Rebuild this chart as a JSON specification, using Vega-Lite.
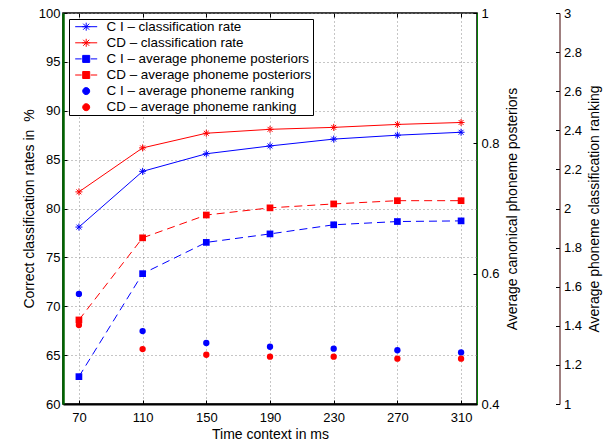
{
  "$schema": "https://vega.github.io/schema/vega-lite/v6.json",
  "width": 414,
  "height": 391,
  "autosize": "none",
  "padding": {"left": 63, "top": 13, "right": 131, "bottom": 40},
  "config": {
    "font": "Liberation Sans",
    "view": {"stroke": "black", "strokeWidth": 1.5},
    "axis": {
      "labelFont": "Liberation Sans", "labelFontSize": 13, "labelColor": "black",
      "titleFont": "Liberation Sans", "titleFontSize": 14, "titleFontWeight": "normal", "titleColor": "black",
      "tickColor": "black", "domainColor": "black", "gridColor": "#8c8c8c", "gridDash": [1, 3], "gridWidth": 1
    }
  },
  "datasets": {
    "d": [
      {"t": 70, "g": "rate", "s": "C I \u2013 classification rate", "v": 78.1},
      {"t": 110, "g": "rate", "s": "C I \u2013 classification rate", "v": 83.8},
      {"t": 150, "g": "rate", "s": "C I \u2013 classification rate", "v": 85.6},
      {"t": 190, "g": "rate", "s": "C I \u2013 classification rate", "v": 86.4},
      {"t": 230, "g": "rate", "s": "C I \u2013 classification rate", "v": 87.1},
      {"t": 270, "g": "rate", "s": "C I \u2013 classification rate", "v": 87.5},
      {"t": 310, "g": "rate", "s": "C I \u2013 classification rate", "v": 87.8},
      {"t": 70, "g": "rate", "s": "CD \u2013 classification rate", "v": 81.7},
      {"t": 110, "g": "rate", "s": "CD \u2013 classification rate", "v": 86.2},
      {"t": 150, "g": "rate", "s": "CD \u2013 classification rate", "v": 87.7},
      {"t": 190, "g": "rate", "s": "CD \u2013 classification rate", "v": 88.1},
      {"t": 230, "g": "rate", "s": "CD \u2013 classification rate", "v": 88.3},
      {"t": 270, "g": "rate", "s": "CD \u2013 classification rate", "v": 88.6},
      {"t": 310, "g": "rate", "s": "CD \u2013 classification rate", "v": 88.8},
      {"t": 70, "g": "post", "s": "C I \u2013 average phoneme posteriors", "v": 0.442},
      {"t": 110, "g": "post", "s": "C I \u2013 average phoneme posteriors", "v": 0.600},
      {"t": 150, "g": "post", "s": "C I \u2013 average phoneme posteriors", "v": 0.648},
      {"t": 190, "g": "post", "s": "C I \u2013 average phoneme posteriors", "v": 0.661},
      {"t": 230, "g": "post", "s": "C I \u2013 average phoneme posteriors", "v": 0.675},
      {"t": 270, "g": "post", "s": "C I \u2013 average phoneme posteriors", "v": 0.680},
      {"t": 310, "g": "post", "s": "C I \u2013 average phoneme posteriors", "v": 0.681},
      {"t": 70, "g": "post", "s": "CD \u2013 average phoneme posteriors", "v": 0.529},
      {"t": 110, "g": "post", "s": "CD \u2013 average phoneme posteriors", "v": 0.655},
      {"t": 150, "g": "post", "s": "CD \u2013 average phoneme posteriors", "v": 0.690},
      {"t": 190, "g": "post", "s": "CD \u2013 average phoneme posteriors", "v": 0.701},
      {"t": 230, "g": "post", "s": "CD \u2013 average phoneme posteriors", "v": 0.707},
      {"t": 270, "g": "post", "s": "CD \u2013 average phoneme posteriors", "v": 0.712},
      {"t": 310, "g": "post", "s": "CD \u2013 average phoneme posteriors", "v": 0.712},
      {"t": 70, "g": "rank", "s": "C I \u2013 average phoneme ranking", "v": 1.563},
      {"t": 110, "g": "rank", "s": "C I \u2013 average phoneme ranking", "v": 1.373},
      {"t": 150, "g": "rank", "s": "C I \u2013 average phoneme ranking", "v": 1.312},
      {"t": 190, "g": "rank", "s": "C I \u2013 average phoneme ranking", "v": 1.293},
      {"t": 230, "g": "rank", "s": "C I \u2013 average phoneme ranking", "v": 1.283},
      {"t": 270, "g": "rank", "s": "C I \u2013 average phoneme ranking", "v": 1.275},
      {"t": 310, "g": "rank", "s": "C I \u2013 average phoneme ranking", "v": 1.264},
      {"t": 70, "g": "rank", "s": "CD \u2013 average phoneme ranking", "v": 1.404},
      {"t": 110, "g": "rank", "s": "CD \u2013 average phoneme ranking", "v": 1.281},
      {"t": 150, "g": "rank", "s": "CD \u2013 average phoneme ranking", "v": 1.252},
      {"t": 190, "g": "rank", "s": "CD \u2013 average phoneme ranking", "v": 1.242},
      {"t": 230, "g": "rank", "s": "CD \u2013 average phoneme ranking", "v": 1.242},
      {"t": 270, "g": "rank", "s": "CD \u2013 average phoneme ranking", "v": 1.232},
      {"t": 310, "g": "rank", "s": "CD \u2013 average phoneme ranking", "v": 1.232}
    ]
  },
  "data": {"name": "d"},
  "encoding": {
    "color": {
      "field": "s", "type": "nominal",
      "scale": {
        "domain": [
          "C I \u2013 classification rate", "CD \u2013 classification rate",
          "C I \u2013 average phoneme posteriors", "CD \u2013 average phoneme posteriors",
          "C I \u2013 average phoneme ranking", "CD \u2013 average phoneme ranking"
        ],
        "range": ["#0000ff", "#ff0000", "#0000ff", "#ff0000", "#0000ff", "#ff0000"]
      },
      "legend": {
        "title": null,
        "orient": "top-left",
        "offset": 6,
        "padding": 1,
        "rowPadding": 1.1,
        "symbolSize": 100,
        "symbolOffset": 9.5,
        "labelOffset": 13.7,
        "labelFont": "Liberation Sans",
        "labelFontSize": 13.4,
        "labelColor": "black",
        "labelLimit": 400,
        "strokeColor": "black",
        "fillColor": "white",
        "symbolStrokeWidth": 1,
        "encode": {
          "symbols": {
            "update": {
              "shape": {"signal": "indexof(datum.value,'rate')>=0 ? 'M-2.2,0H2.2M-0.8,0H0.8M0,-0.8V0.8M-0.6,-0.6L0.6,0.6M-0.6,0.6L0.6,-0.6' : (indexof(datum.value,'posteriors')>=0 ? 'M-2.2,0H-0.9M0.9,0H2.2M-0.7,-0.7H0.7V0.7H-0.7Z' : 'M-0.7,0A0.7,0.7 0 1,0 0.7,0A0.7,0.7 0 1,0 -0.7,0Z')"},
              "fill": {"signal": "indexof(datum.value,'rate')>=0 ? 'transparent' : (indexof(datum.value,'C I')>=0 ? '#0000ff' : '#ff0000')"},
              "stroke": {"signal": "indexof(datum.value,'C I')>=0 ? '#0000ff' : '#ff0000'"},
              "strokeWidth": {"value": 1},
              "strokeDash": {"value": []},
              "opacity": {"value": 1}
            }
          }
        }
      }
    }
  },
  "layer": [
    {
      "transform": [{"filter": "datum.g === 'rate'"}],
      "encoding": {
        "x": {
          "field": "t", "type": "quantitative",
          "scale": {"domain": [60, 320], "nice": false, "zero": false},
          "axis": {
            "orient": "bottom",
            "values": [70, 110, 150, 190, 230, 270, 310],
            "title": "Time context in ms",
            "grid": true, "tickSize": -4, "labelPadding": 11, "domainWidth": 2, "titlePadding": 3
          }
        },
        "y": {
          "field": "v", "type": "quantitative",
          "scale": {"domain": [60, 100], "nice": false, "zero": false},
          "axis": {
            "orient": "left",
            "values": [60, 65, 70, 75, 80, 85, 90, 95, 100],
            "title": "Correct classification rates in \u00a0%",
            "grid": true, "tickSize": -4, "labelPadding": 7,
            "domainColor": "#006400", "domainWidth": 2.5, "titlePadding": 2
          }
        }
      },
      "layer": [
        {"mark": {"type": "line", "strokeWidth": 1}},
        {"mark": {"type": "point", "shape": "M-1,0H1M0,-1V1M-0.7,-0.7L0.7,0.7M-0.7,0.7L0.7,-0.7", "filled": false, "size": 49, "strokeWidth": 1, "opacity": 1}}
      ]
    },
    {
      "transform": [{"filter": "datum.g === 'post'"}],
      "encoding": {
        "x": {
          "field": "t", "type": "quantitative",
          "scale": {"domain": [60, 320], "nice": false, "zero": false},
          "axis": null
        },
        "y": {
          "field": "v", "type": "quantitative",
          "scale": {"domain": [0.4, 1], "nice": false, "zero": false},
          "axis": {
            "orient": "right",
            "values": [0.4, 0.6, 0.8, 1],
            "format": "~g",
            "title": "Average canonical phoneme posteriors",
            "titleAngle": 270, "titleBaseline": "top",
            "grid": false, "tickSize": -4, "labelPadding": 8,
            "domainColor": "#008000", "domainWidth": 1, "titlePadding": 6
          }
        }
      },
      "layer": [
        {"mark": {"type": "line", "strokeWidth": 1, "strokeDash": [8, 5]}},
        {"mark": {"type": "point", "shape": "square", "filled": true, "size": 45, "opacity": 1}}
      ]
    },
    {
      "transform": [{"filter": "datum.g === 'rank'"}],
      "encoding": {
        "x": {
          "field": "t", "type": "quantitative",
          "scale": {"domain": [60, 320], "nice": false, "zero": false},
          "axis": {
            "orient": "top",
            "values": [70, 110, 150, 190, 230, 270, 310],
            "title": null, "labels": false, "domain": false,
            "grid": false, "tickSize": -4
          }
        },
        "y": {
          "field": "v", "type": "quantitative",
          "scale": {"domain": [1, 3], "nice": false, "zero": false},
          "axis": {
            "orient": "right",
            "offset": 82.5,
            "values": [1, 1.2, 1.4, 1.6, 1.8, 2, 2.2, 2.4, 2.6, 2.8, 3],
            "format": "~g",
            "title": "Average phoneme classification ranking",
            "titleAngle": 270, "titleBaseline": "top",
            "grid": false, "tickSize": -4, "labelPadding": 8,
            "domainColor": "#400000", "domainWidth": 1, "titlePadding": 6
          }
        }
      },
      "mark": {"type": "point", "shape": "circle", "filled": true, "size": 40, "opacity": 1}
    }
  ],
  "resolve": {"scale": {"y": "independent"}, "axis": {"x": "independent"}}
}
